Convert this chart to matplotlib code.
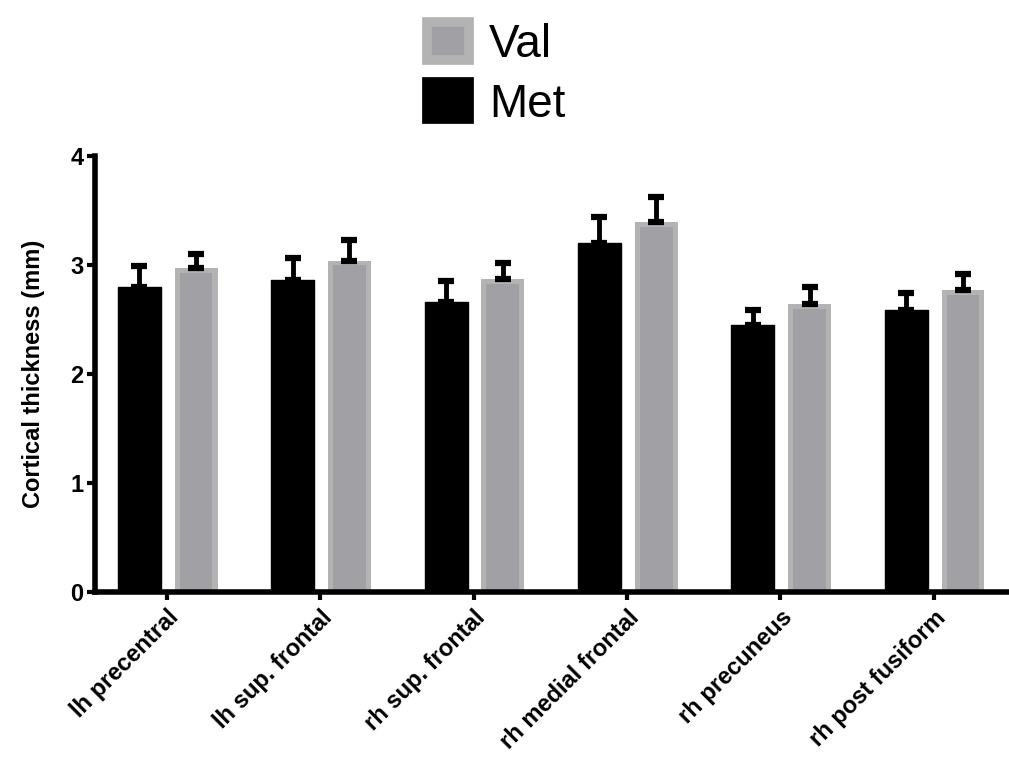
import matplotlib
matplotlib.use('Agg')
import matplotlib.pyplot as plt
from matplotlib.patches import Rectangle
import numpy as np

plt.rcParams['font.family'] = ['Liberation Sans', 'DejaVu Sans']

regions = ['lh precentral', 'lh sup. frontal', 'rh sup. frontal',
           'rh medial frontal', 'rh precuneus', 'rh post fusiform']
met = [2.80, 2.86, 2.66, 3.20, 2.45, 2.59]
met_err = [0.19, 0.20, 0.19, 0.24, 0.14, 0.15]
val = [2.97, 3.04, 2.87, 3.39, 2.64, 2.77]
val_err = [0.13, 0.19, 0.15, 0.23, 0.16, 0.15]

light = '#b3b3b3'
inner = '#a0a0a5'

fig = plt.figure(figsize=(10.09, 7.57), dpi=100)
ax = fig.add_axes([0.094, 0.218, 0.906, 0.576])

x = np.arange(len(regions))
w = 0.28
off = 0.19
inset_x = 0.033
inset_y = 0.045

# Met bars (black)
ax.bar(x - off + 0.01, met, w, color='black', edgecolor='black', linewidth=1,
       joinstyle='round', zorder=2)
# Val bars: light outer + darker inner
ax.bar(x + off, val, w, color=light, linewidth=0, zorder=2)
ax.bar(x + off, np.array(val) - inset_y, w - 2 * inset_x, color=inner,
       linewidth=0, zorder=2)

# upward error bars only
ax.errorbar(x - off + 0.01, met, yerr=[np.zeros(len(met)), met_err],
            fmt='none', ecolor='black', elinewidth=3.5, capsize=6,
            capthick=4.5, zorder=3)
ax.errorbar(x + off, val, yerr=[np.zeros(len(val)), val_err], fmt='none',
            ecolor='black', elinewidth=3.5, capsize=6, capthick=4.5,
            zorder=3)

ax.set_xlim(-0.47, 5.49)
ax.set_ylim(0, 4)
ax.set_yticks([0, 1, 2, 3, 4])
ax.set_xticks(x)
ax.set_xticklabels(regions, rotation=45, ha='right', rotation_mode='anchor',
                   fontsize=17, fontweight='bold')
for lbl in ax.get_yticklabels():
    lbl.set_fontsize(17)
    lbl.set_fontweight('bold')
ax.set_ylabel('Cortical thickness (mm)', fontsize=17, fontweight='bold',
              labelpad=18)

for s in ['top', 'right']:
    ax.spines[s].set_visible(False)
for s in ['left', 'bottom']:
    ax.spines[s].set_linewidth(4)
ax.tick_params(axis='y', width=3, length=6, direction='out', pad=2)
ax.tick_params(axis='x', width=3, length=6, direction='out', pad=4)

# legend
h_val = Rectangle((0, 0), 1, 1, facecolor=inner, edgecolor=light, linewidth=7)
h_met = Rectangle((0, 0), 1, 1, facecolor='black', edgecolor='black',
                  linewidth=7)
fig.legend([h_val, h_met], ['Val', 'Met'], loc='upper center',
           bbox_to_anchor=(0.492, 1.025), frameon=False, fontsize=33,
           handlelength=0.9, handleheight=0.88, labelspacing=0.33,
           handletextpad=0.45)

fig.savefig('out.png', dpi=100)
